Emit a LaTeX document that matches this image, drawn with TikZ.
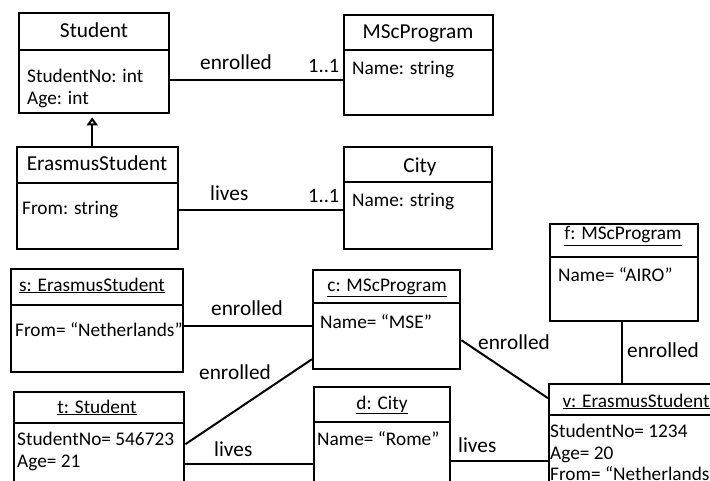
\documentclass[tikz,border=0pt]{standalone}
\usepackage{fontspec}
\setmainfont{Carlito}
\usetikzlibrary{arrows.meta}
\begin{document}
\begin{tikzpicture}[x=1pt,y=-1pt,
  box/.style={draw,line width=2.4pt,anchor=north west,inner sep=0pt},
  hdr/.style={line width=2.4pt},
  conn/.style={line width=2pt},
  title/.style={anchor=base,inner sep=0pt,font=\fontsize{21.3}{24}\selectfont},
  otitle/.style={anchor=base,inner sep=0pt,font=\fontsize{19.3}{22}\selectfont},
  attr/.style={anchor=base west,inner sep=0pt,font=\fontsize{19.3}{22}\selectfont},
  lbl/.style={anchor=base west,inner sep=0pt,font=\fontsize{21.3}{24}\selectfont},
  mult/.style={anchor=base west,inner sep=0pt,font=\fontsize{20.5}{24}\selectfont}]
\clip (0,0) rectangle (710,481);
\fill[white] (0,0) rectangle (710,481);

% boxes
\node[box,minimum width=150pt,minimum height=100pt] (student) at (18,12) {};
\node[box,minimum width=149pt,minimum height=100pt] (msc) at (343,14) {};
\node[box,minimum width=161pt,minimum height=102pt] (erasmus) at (16,146) {};
\node[box,minimum width=148pt,minimum height=102pt] (city) at (343,146) {};
\node[box,minimum width=148pt,minimum height=97pt] (f) at (549,223) {};
\node[box,minimum width=172pt,minimum height=103pt] (s) at (10,268) {};
\node[box,minimum width=147pt,minimum height=99pt] (c) at (312,269) {};
\node[box,minimum width=170pt,minimum height=120pt] (t) at (13,391) {};
\node[box,minimum width=136pt,minimum height=120pt] (d) at (313,386) {};
\node[box,minimum width=222pt,minimum height=120pt] (v) at (548,383) {};

% header lines
\draw[hdr] ([yshift=-38pt]student.north west) -- ([yshift=-38pt]student.north east);
\draw[hdr] ([yshift=-36pt]msc.north west) -- ([yshift=-36pt]msc.north east);
\draw[hdr] ([yshift=-37pt]erasmus.north west) -- ([yshift=-37pt]erasmus.north east);
\draw[hdr] ([yshift=-36pt]city.north west) -- ([yshift=-36pt]city.north east);
\draw[hdr] ([yshift=-34pt]f.north west) -- ([yshift=-34pt]f.north east);
\draw[hdr] ([yshift=-37pt]s.north west) -- ([yshift=-37pt]s.north east);
\draw[hdr] ([yshift=-34pt]c.north west) -- ([yshift=-34pt]c.north east);
\draw[hdr] ([yshift=-32pt]t.north west) -- ([yshift=-32pt]t.north east);
\draw[hdr] ([yshift=-36pt]d.north west) -- ([yshift=-36pt]d.north east);
\draw[hdr] ([yshift=-32pt]v.north west) -- ([yshift=-32pt]v.north east);

% titles
\node[title] (studentT) at (94,38) {Student};
\node[title] (mscT) at (418,39) {MScProgram};
\node[title] (erasmusT) at (97,171) {ErasmusStudent};
\node[title] (cityT) at (420,173) {City};
\node[otitle] (fT) at (623,240) {\underline{f: MScProgram}};
\node[otitle] (sT) at (92,291) {\underline{s: ErasmusStudent}};
\node[otitle] (cT) at (387,291) {\underline{c: MScProgram}};
\node[otitle] (tT) at (97,413) {\underline{t: Student}};
\node[otitle] (dT) at (382,409) {\underline{d: City}};
\node[otitle] (vT) at (636,407) {\underline{v: ErasmusStudent}};

% attributes
\node[attr] (sa1) at (27,83) {StudentNo: int};
\node[attr] (sa2) at (27,105) {Age: int};
\node[attr] (ma1) at (352,75) {Name: string};
\node[attr] (ea1) at (22,215) {From: string};
\node[attr] (ca1) at (352,207) {Name: string};
\node[attr] (fa1) at (558,282) {Name= “AIRO”};
\node[attr] (ssa1) at (15,337) {From= “Netherlands”};
\node[attr] (cca1) at (320,328) {Name= “MSE”};
\node[attr] (ta1) at (17,445) {StudentNo= 546723};
\node[attr] (ta2) at (17,467) {Age= 21};
\node[attr] (da1) at (317,445) {Name= “Rome”};
\node[attr] (va1) at (550,437) {StudentNo= 1234};
\node[attr] (va2) at (550,459) {Age= 20};
\node[attr] (va3) at (550,480) {From= “Netherlands”};

% connector labels
\node[lbl] (l1) at (200,70) {enrolled};
\node[mult] (m1) at (308,73) {1..1};
\node[lbl] (l2) at (210,201) {lives};
\node[mult] (m2) at (308,203) {1..1};
\node[lbl] (l3) at (211,316) {enrolled};
\node[lbl] (l4) at (199,379) {enrolled};
\node[lbl] (l5) at (214,456) {lives};
\node[lbl] (l6) at (478,349) {enrolled};
\node[lbl] (l7) at (627,357) {enrolled};
\node[lbl] (l8) at (458,452) {lives};

% connectors
\draw[conn] ([yshift=-17pt]student.east) -- ([yshift=-15pt]msc.west);
\draw[conn] ([yshift=-12pt]erasmus.east) -- ([yshift=-12pt]city.west);
\draw[conn,-{Triangle[open,width=11pt,length=8pt]},shorten >=3pt]
  ([xshift=-5.5pt]erasmus.north) -- ([xshift=-2pt]student.south);
\draw[conn] ([yshift=-5.5pt]s.east) -- ([yshift=-6.5pt]c.west);
\draw[conn] ([yshift=8pt]t.east) -- ([yshift=-39.5pt]c.west);
\draw[conn] ([yshift=-12pt]t.east) -- ([yshift=-17pt]d.west);
\draw[conn] ([yshift=-20.5pt]c.east) -- ([yshift=46pt]v.west);
\draw[conn] ([xshift=-2pt]f.south) -- ([xshift=-2pt]f.south |- v.north);
\draw[conn] ([yshift=-14pt]d.east) -- ([yshift=-17pt]v.west);
\end{tikzpicture}
\end{document}
